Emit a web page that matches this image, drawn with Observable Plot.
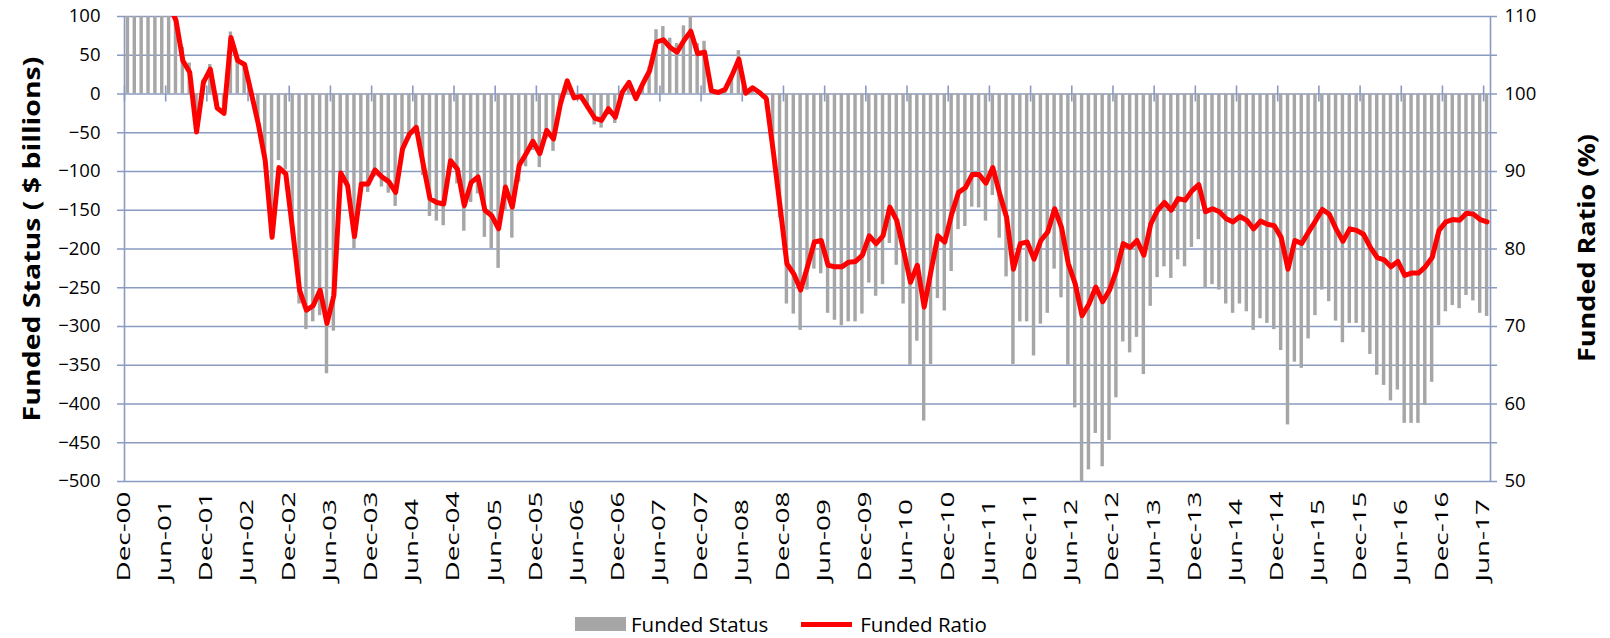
<!DOCTYPE html>
<html><head><meta charset="utf-8">
<script src="https://cdn.jsdelivr.net/npm/d3@7"></script>
<script src="https://cdn.jsdelivr.net/npm/@observablehq/plot@0.6"></script>
<style>
body{margin:0;background:#fff;font-family:"Open Sans",sans-serif;}
#chart{position:relative;width:1610px;height:638px;overflow:hidden;}
#chart svg{position:absolute;left:0;top:0;}
.lg{position:absolute;top:611px;height:26px;display:flex;align-items:center;font-size:20.5px;color:#000;white-space:nowrap;}
.sw1{width:51px;height:14px;background:#a6a6a6;}
.sw2{width:51px;height:5px;background:#ff0000;}
</style></head><body>
<div id="chart"></div>
<script>
// ---- data ----
const fundedStatus = [
 180,190,170,160,165,150,125,105,60,40,-50,18,38,-20,-28,80,48,40,-3,-40,
 -85,-185,-86,-98,-180,-271,-304,-294,-286,-361,-306,-100,-120,-200,-127,-127,-107,-120,-128,-145,
 -80,-58,-50,-105,-158,-164,-170,-97,-116,-177,-140,-129,-185,-200,-225,-150,-186,-114,-94,-73,
 -95,-58,-74,-15,18,-5,-5,-20,-40,-44,-27,-38,2,12,-6,10,35,83,87,72,
 65,88,100,65,68,3,2,5,25,56,1,8,2,-8,-75,-160,-271,-284,-305,-253,
 -226,-232,-283,-292,-299,-294,-294,-284,-244,-261,-246,-193,-221,-271,-350,-319,-422,-349,-264,-280,
 -229,-175,-171,-146,-147,-164,-131,-186,-236,-349,-294,-294,-338,-297,-283,-226,-263,-350,-405,-500,
 -485,-438,-481,-447,-392,-320,-334,-314,-362,-274,-237,-223,-238,-214,-223,-198,-188,-251,-246,-253,
 -271,-283,-271,-281,-305,-290,-296,-304,-331,-427,-346,-354,-316,-286,-253,-268,-293,-321,-296,-296,
 -308,-336,-363,-376,-396,-382,-425,-425,-425,-402,-372,-299,-281,-273,-277,-260,-267,-283,-287
];
const fundedRatio = [
 120,121,119,118,118,116,111.5,109.5,104.3,102.8,95.1,101.5,103.2,98.2,97.5,107.3,104.3,103.8,100.0,96.1,
 91.4,81.5,90.5,89.7,82.4,74.7,72.1,72.7,74.7,70.4,74.0,89.8,88.2,81.6,88.4,88.4,90.2,89.3,88.7,87.3,
 92.9,94.8,95.7,91.0,86.5,86.0,85.8,91.4,90.3,85.6,88.6,89.3,85.0,84.3,82.6,88.0,85.4,90.8,92.3,93.9,
 92.3,95.3,94.2,98.7,101.7,99.5,99.7,98.3,96.9,96.6,98.1,97.0,100.2,101.5,99.4,101.3,103.0,106.7,107.0,106.0,
 105.4,106.9,108.1,105.2,105.4,100.4,100.2,100.6,102.4,104.5,100.1,100.8,100.2,99.4,92.7,85.5,78.1,76.8,74.7,77.7,
 80.9,81.1,77.9,77.7,77.7,78.3,78.4,79.2,81.7,80.7,81.7,85.4,83.7,79.8,75.7,77.9,72.5,77.2,81.7,80.9,
 84.5,87.3,87.9,89.6,89.6,88.5,90.5,87.1,84.1,77.4,80.7,80.9,78.7,81.1,82.2,85.2,82.8,78.1,75.5,71.4,
 72.9,75.1,73.2,74.7,77.2,80.7,80.2,81.1,79.2,83.2,85.0,86.0,85.0,86.5,86.3,87.5,88.3,84.8,85.2,84.8,
 83.9,83.5,84.2,83.7,82.6,83.6,83.2,83.0,81.5,77.4,81.1,80.7,82.2,83.6,85.1,84.5,82.6,81.0,82.6,82.4,
 81.9,80.2,78.9,78.6,77.7,78.4,76.6,76.9,76.9,77.7,78.9,82.4,83.5,83.8,83.7,84.6,84.5,83.8,83.5
];
// monthly categories Dec-00 .. Jun-17
const months = d3.timeMonth.range(new Date(2000, 11, 1), new Date(2017, 6, 1)).map(d3.timeFormat("%b-%y"));
const tickLabels = ["Dec-00","Jun-01","Dec-01","Jun-02","Dec-02","Jun-03","Dec-03","Jun-04","Dec-04","Jun-05",
 "Dec-05","Jun-06","Dec-06","Jun-07","Dec-07","Jun-08","Dec-08","Jun-09","Dec-09","Jun-10","Dec-10","Jun-11",
 "Dec-11","Jun-12","Dec-12","Jun-13","Dec-13","Jun-14","Dec-14","Jun-15","Dec-15","Jun-16","Dec-16","Jun-17"];
const statusTicks = [100,50,0,-50,-100,-150,-200,-250,-300,-350,-400,-450,-500];
const ratioTicks = [110,100,90,80,70,60,50];
const leftTitle = "Funded Status ( $ billions)";
const rightTitle = "Funded Ratio (%)";

// ---- layout ----
const W = 1610, H = 600, mL = 124, mR = 120, mT = 16, mB = 119;
const step = (W - mL - mR) / months.length;
const gridColor = "#8a9bc2";
const toLeft = r => (r - 100) * 10;   // right axis (ratio) expressed on left scale
const data = months.map((m, i) => ({month: m, status: fundedStatus[i], ratio: fundedRatio[i]}));

const plot = Plot.plot({
  width: W, height: H, marginLeft: mL, marginRight: mR, marginTop: mT, marginBottom: mB,
  style: {fontFamily: "Open Sans", fontSize: "18px", color: "black", background: "white", overflow: "visible"},
  x: {type: "band", domain: months, paddingInner: 0.5, paddingOuter: 0.25, axis: null},
  y: {domain: [-500, 100], axis: null},
  marks: [
    Plot.ruleY(statusTicks, {insetLeft: -7, insetRight: -7, stroke: gridColor, strokeWidth: 1.6}),
    Plot.barY(data, {x: "month", y: "status", fill: "#a6a6a6", clip: true}),
    Plot.ruleX([0], {x: () => months[0], y1: 100, y2: -500, dx: -step / 2, stroke: gridColor, strokeWidth: 1.6}),
    Plot.ruleX([0], {x: () => months[months.length - 1], y1: 100, y2: -500, dx: step / 2, stroke: gridColor, strokeWidth: 1.6}),
    Plot.ruleX(tickLabels, {x: d => d, y1: 0, y2: 0, insetTop: -8, insetBottom: -8, dx: -step / 2, stroke: gridColor, strokeWidth: 1.6}),
    Plot.lineY(data, {x: "month", y: d => toLeft(d.ratio), stroke: "#ff0000", strokeWidth: 5, strokeLinejoin: "round", clip: true}),
    Plot.axisY(statusTicks, {anchor: "left", tickSize: 0, tickPadding: 24, label: null, fontSize: 18.5}),
    Plot.axisY(ratioTicks.map(toLeft), {anchor: "right", tickSize: 0, tickPadding: 14, label: null, fontSize: 18.5,
      tickFormat: v => String(Math.round(v / 10 + 100))}),
    Plot.text(tickLabels, {x: d => d, text: d => d, frameAnchor: "bottom", dy: 100, dx: 2, rotate: -90, textAnchor: "start", fontSize: 19}),
    Plot.text([leftTitle], {text: d => d, frameAnchor: "left", textAnchor: "middle", dx: -92, dy: -10, rotate: -90, fontWeight: "bold", fontSize: 24}),
    Plot.text([rightTitle], {text: d => d, frameAnchor: "right", textAnchor: "middle", dx: 97, dy: -1, rotate: -90, fontWeight: "bold", fontSize: 24})
  ]
});
const chart = document.getElementById("chart");
chart.appendChild(plot);

// stretch rotated texts along their length, as in the reference
function stretch(t, target) {
  const k = target / t.getComputedTextLength();
  t.setAttribute("transform", t.getAttribute("transform") + ` scale(${k},1)`);
  return k;
}
const textGroups = plot.querySelectorAll('g[aria-label="text"]');
if (textGroups.length >= 3) {
  const xl = textGroups[0].querySelectorAll("text");
  const k = 90 / xl[0].getComputedTextLength();
  xl.forEach(t => t.setAttribute("transform", t.getAttribute("transform") + ` scale(${k},1)`));
  stretch(textGroups[1].querySelector("text"), 365);
  stretch(textGroups[2].querySelector("text"), 228);
}

// legend
const lg = document.createElement("div");
lg.className = "lg"; lg.style.left = "575px";
lg.innerHTML = `<div class="sw1"></div><span style="margin-left:5px">Funded Status</span>
  <div class="sw2" style="margin-left:33px"></div><span style="margin-left:8px">Funded Ratio</span>`;
chart.appendChild(lg);
</script>
</body></html>
